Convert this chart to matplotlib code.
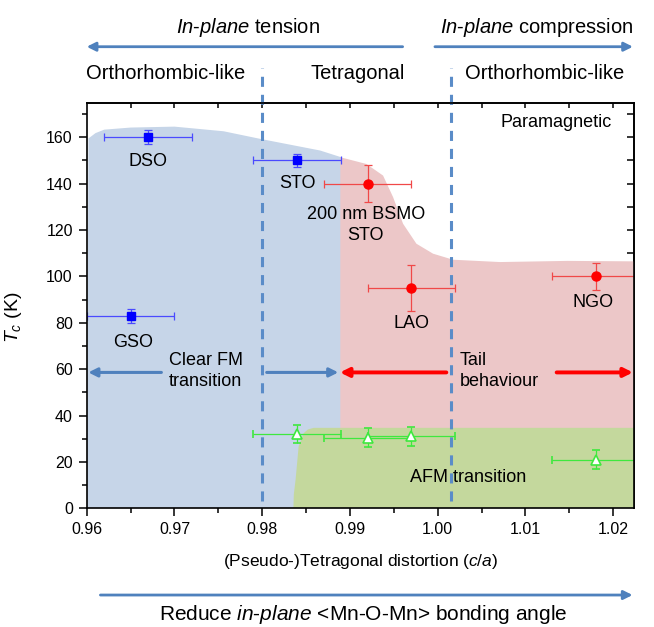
import numpy as np
import matplotlib
matplotlib.use("Agg")
import matplotlib.pyplot as plt

plt.rcParams["font.family"] = ["Liberation Sans", "DejaVu Sans"]
plt.rcParams["mathtext.fontset"] = "custom"
plt.rcParams["mathtext.rm"] = "Liberation Sans"
plt.rcParams["mathtext.it"] = "Liberation Sans:italic"

# ------------------------------------------------------
# Data
# ------------------------------------------------------

# FM transition (blue squares)
fm_names = ["DSO", "STO", "GSO"]
fm_x = [0.967, 0.984, 0.965]
fm_y = [160, 150, 83]
fm_xerr = [0.005, 0.005, 0.005]
fm_yerr = [3, 3, 3]

# tail behaviour (red circles)
tail_names = ["200 nm BSMO\nSTO", "LAO", "NGO"]
tail_x = [0.992, 0.997, 1.018]
tail_y = [140, 95, 100]
tail_xerr = [0.005, 0.005, 0.005]
tail_yerr = [8, 10, 6]

# AFM transition (open green triangles)
afm_x = [0.984, 0.992, 0.997, 1.018]
afm_y = [32, 30.5, 31, 21]
afm_xerr = [0.005, 0.005, 0.005, 0.005]
afm_yerr = [4, 4, 4, 4]

# shaded phase regions (boundary outlines)
blue_x = [0.9600, 0.9602, 0.9610, 0.9620, 0.965, 0.970, 0.9756, 0.9798, 0.9866, 0.9890, 0.9890]
blue_y = [0, 159.5, 161.8, 163.3, 164.2, 164.6, 162.6, 159.3, 154.3, 151.4, 0]

red_x = [0.9889, 0.9889, 0.99187, 0.99377, 0.99491, 0.99605, 0.99757, 0.99947, 1.00175,
         1.0071, 1.0148, 1.0224, 1.0224]
red_y = [0, 151.4, 148.5, 143.5, 134.2, 122.7, 114.1, 109.8, 107.2,
         106.2, 106.7, 106.5, 0]

green_x = [0.98355, 0.9836, 0.9838, 0.98415, 0.98472, 0.9852, 0.98587, 1.0224, 1.0224]
green_y = [0, 6, 12.3, 26.7, 32.4, 34.0, 34.7, 34.7, 0]

# phase boundaries (dashed lines)
boundary_x = [0.980, 1.0015]

xticks = [0.96, 0.97, 0.98, 0.99, 1.00, 1.01, 1.02]
yticks = [0, 20, 40, 60, 80, 100, 120, 140, 160]

xlim = (0.96, 1.0224)
ylim = (0, 175)

arrow_blue = "#4f81bd"

# ------------------------------------------------------
# Figure
# ------------------------------------------------------

fig = plt.figure(figsize=(6.54, 6.27), dpi=100)
ax = fig.add_axes([0.1326, 0.1893, 0.8373, 0.6472])

ax.fill(blue_x, blue_y, color="#c6d5e8", lw=0, zorder=1)
ax.fill(red_x, red_y, color="#ecc7c8", lw=0, zorder=1)
ax.fill(green_x, green_y, color="#c4d89d", lw=0, zorder=2)

for bx in boundary_x:
    ln, = ax.plot([bx, bx], [3, 190], color="#5a8cc8", lw=2.2, clip_on=False, zorder=3)
    ln.set_dashes([3.3, 2.6])

ax.errorbar(fm_x, fm_y, xerr=fm_xerr, yerr=fm_yerr, fmt="s", ms=6, color="#0000ff",
            ecolor="#4a4aff", elinewidth=0.9, capsize=3, capthick=0.9, zorder=5)
ax.errorbar(tail_x, tail_y, xerr=tail_xerr, yerr=tail_yerr, fmt="o", ms=6.5, color="#ff0000",
            ecolor="#f04848", elinewidth=0.9, capsize=3, capthick=0.9, zorder=5)
ax.errorbar(afm_x, afm_y, xerr=afm_xerr, yerr=afm_yerr, fmt="^", ms=7.5, mfc="white",
            mec="#3ee83e", mew=1.2, ecolor="#3ee83e", elinewidth=0.9, capsize=3,
            capthick=0.9, zorder=5)

# sample labels
fs_in = 13
ax.text(0.9670, 149.5, "DSO", ha="center", va="center", fontsize=fs_in, zorder=6)
ax.text(0.9840, 140.2, "STO", ha="center", va="center", fontsize=fs_in, zorder=6)
ax.text(0.9918, 122.3, tail_names[0], ha="center", va="center", fontsize=fs_in,
        linespacing=1.3, zorder=6)
ax.text(0.99699, 79.5, tail_names[1], ha="center", va="center", fontsize=fs_in, zorder=6)
ax.text(1.01772, 88.7, tail_names[2], ha="center", va="center", fontsize=fs_in, zorder=6)
ax.text(0.96527, 71.7, fm_names[2], ha="center", va="center", fontsize=fs_in, zorder=6)
ax.text(1.01351, 166.5, "Paramagnetic", ha="center", va="center", fontsize=fs_in, zorder=6)
ax.text(0.96938, 59.1, "Clear FM\ntransition", ha="left", va="center", fontsize=fs_in,
        linespacing=1.3, zorder=6)
ax.text(1.00251, 59.2, "Tail\nbehaviour", ha="left", va="center", fontsize=fs_in,
        linespacing=1.3, zorder=6)
ax.text(1.00347, 13.1, "AFM transition", ha="center", va="center", fontsize=fs_in, zorder=6)

# arrows inside the axes
def arrow(x0, x1, y, color, lw, trans=None):
    ax.annotate("", xy=(x1, y), xytext=(x0, y),
                xycoords=trans or "data", textcoords=trans or "data",
                arrowprops=dict(arrowstyle="-|>", color=color, lw=lw,
                                mutation_scale=13, shrinkA=0, shrinkB=0),
                annotation_clip=False, zorder=6)

arrow(0.96851, 0.96018, 58.6, arrow_blue, 2.2)
arrow(0.98051, 0.98867, 58.6, arrow_blue, 2.2)
arrow(1.00098, 0.98886, 58.6, "#ff0000", 2.8)
arrow(1.01355, 1.02224, 58.6, "#ff0000", 2.8)

# arrows and labels outside the axes
xt = ax.get_xaxis_transform()
arrow(0.9960, 0.9600, 1.1375, arrow_blue, 2.0, xt)
arrow(0.99968, 1.02224, 1.1375, arrow_blue, 2.0, xt)
arrow(0.96156, 1.02220, -0.2137, arrow_blue, 2.0, xt)

ax.text(0.97838, 1.186, r"$\mathit{In}$-$\mathit{plane}$ tension", transform=xt,
        ha="center", va="center", fontsize=14.5)
ax.text(1.0113, 1.186, r"$\mathit{In}$-$\mathit{plane}$ compression", transform=xt,
        ha="center", va="center", fontsize=14.5)
ax.text(0.96904, 1.0727, "Orthorhombic-like", transform=xt, ha="center", va="center",
        fontsize=14.5)
ax.text(0.99085, 1.0727, "Tetragonal", transform=xt, ha="center", va="center",
        fontsize=14.5)
ax.text(1.01222, 1.0727, "Orthorhombic-like", transform=xt, ha="center", va="center",
        fontsize=14.5)
ax.text(0.9915, -0.262, r"Reduce $\mathit{in}$-$\mathit{plane}$ <Mn-O-Mn> bonding angle",
        transform=xt, ha="center", va="center", fontsize=15)

# ------------------------------------------------------
# Axes styling
# ------------------------------------------------------

ax.set_xlim(*xlim)
ax.set_ylim(*ylim)
ax.set_xticks(xticks)
ax.set_xticklabels([f"{v:.2f}" for v in xticks])
ax.set_xticks(np.arange(0.965, 1.021, 0.01), minor=True)
ax.set_yticks(yticks)
ax.set_yticks(np.arange(10, 171, 20), minor=True)

ax.tick_params(which="major", direction="out", length=6, width=1.1, labelsize=11.5, pad=4)
ax.tick_params(which="minor", direction="out", length=3.5, width=1.1)

ax.set_xlabel(r"(Pseudo-)Tetragonal distortion ($\mathit{c}$/$\mathit{a}$)", fontsize=12.5,
              labelpad=11)
ax.set_ylabel(r"$\mathit{T}_{\mathit{c}}$ (K)", fontsize=14, labelpad=6)
ax.yaxis.set_label_coords(-0.115, 0.47)

for sp in ax.spines.values():
    sp.set_linewidth(1.2)
    sp.set_zorder(7)

top = ax.secondary_xaxis("top")
top.set_xticks(np.arange(0.965, 1.021, 0.005))
top.tick_params(direction="in", length=3.5, width=1.1, labeltop=False)
top.spines["top"].set_linewidth(1.2)

right = ax.secondary_yaxis("right")
right.set_yticks(np.arange(10, 171, 10))
right.tick_params(direction="in", length=5, width=1.1, labelright=False)
right.spines["right"].set_linewidth(1.2)

fig.savefig("out.png", dpi=100)
